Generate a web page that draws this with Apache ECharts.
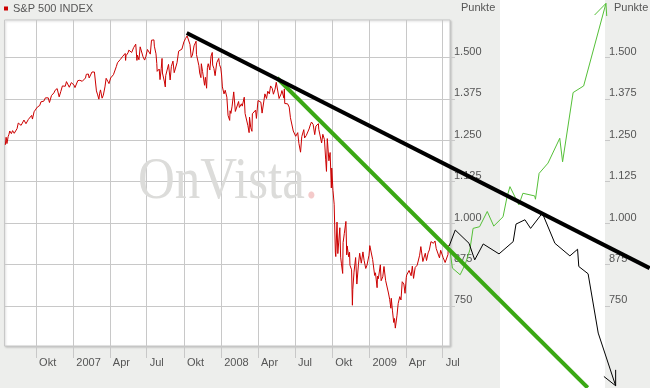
<!DOCTYPE html>
<html><head><meta charset="utf-8">
<script src="https://cdn.jsdelivr.net/npm/echarts@6/dist/echarts.min.js"></script>
<style>html,body{margin:0;padding:0;background:#edeeec}#c{width:650px;height:388px}</style>
</head><body><div id="c"></div>
<script>
const seriesName = 'S&P 500 INDEX';
const axisUnit = 'Punkte';
const watermark = 'OnVista';
const xTickDates = ['2006-10-01','2007-01-01','2007-04-01','2007-07-01','2007-10-01','2008-01-01','2008-04-01','2008-07-01','2008-10-01','2009-01-01','2009-04-01','2009-07-01'];
const xTickLabels = ['Okt','2007','Apr','Jul','Okt','2008','Apr','Jul','Okt','2009','Apr','Jul'];
const yTickValues = [750,875,1000,1125,1250,1375,1500];
const yTickLabels = ['750','875','1.000','1.125','1.250','1.375','1.500'];

const spx = [
['2006-07-17',1236],['2006-07-18',1236],['2006-07-19',1259],['2006-07-20',1249],['2006-07-21',1240],['2006-07-24',1261],['2006-07-26',1268],['2006-07-28',1278],
['2006-08-01',1270],['2006-08-04',1279],['2006-08-08',1271],['2006-08-11',1266],['2006-08-15',1285],['2006-08-18',1302],['2006-08-22',1298],['2006-08-25',1295],['2006-08-29',1301],
['2006-09-01',1311],['2006-09-06',1300],['2006-09-08',1299],['2006-09-12',1313],['2006-09-15',1319],['2006-09-20',1325],['2006-09-22',1314],['2006-09-26',1336],['2006-09-29',1336],
['2006-10-04',1350],['2006-10-06',1349],['2006-10-10',1355],['2006-10-13',1366],['2006-10-17',1364],['2006-10-20',1368],['2006-10-24',1378],['2006-10-27',1377],['2006-10-31',1378],
['2006-11-03',1364],['2006-11-08',1385],['2006-11-10',1380],['2006-11-14',1393],['2006-11-17',1401],['2006-11-22',1406],['2006-11-27',1381],
['2006-12-01',1397],['2006-12-05',1414],['2006-12-08',1409],['2006-12-12',1413],['2006-12-15',1427],['2006-12-19',1425],['2006-12-22',1410],['2006-12-27',1424],['2006-12-29',1418],
['2007-01-03',1416],['2007-01-05',1409],['2007-01-09',1412],['2007-01-12',1430],['2007-01-17',1431],['2007-01-19',1431],['2007-01-23',1428],['2007-01-26',1422],['2007-01-31',1438],
['2007-02-02',1449],['2007-02-07',1450],['2007-02-09',1438],['2007-02-13',1444],['2007-02-16',1456],['2007-02-20',1460],['2007-02-22',1456],['2007-02-27',1399],
['2007-03-02',1387],['2007-03-05',1374],['2007-03-07',1392],['2007-03-09',1402],['2007-03-13',1377],['2007-03-16',1386],['2007-03-20',1411],['2007-03-23',1437],['2007-03-27',1428],['2007-03-30',1421],
['2007-04-03',1438],['2007-04-06',1444],['2007-04-10',1448],['2007-04-13',1452],['2007-04-17',1472],['2007-04-20',1484],['2007-04-24',1480],['2007-04-27',1494],
['2007-05-02',1502],['2007-05-04',1505],['2007-05-09',1512],['2007-05-10',1491],['2007-05-11',1505],['2007-05-16',1514],['2007-05-18',1522],['2007-05-22',1524],['2007-05-25',1515],['2007-05-30',1530],
['2007-06-01',1536],['2007-06-04',1540],['2007-06-07',1491],['2007-06-08',1507],['2007-06-12',1493],['2007-06-15',1532],['2007-06-19',1533],['2007-06-22',1502],['2007-06-26',1492],['2007-06-29',1503],
['2007-07-03',1524],['2007-07-06',1530],['2007-07-10',1510],['2007-07-13',1552],['2007-07-17',1549],['2007-07-19',1553],['2007-07-20',1534],['2007-07-24',1511],['2007-07-26',1482],['2007-07-27',1458],['2007-07-31',1455],
['2007-08-01',1465],['2007-08-03',1433],['2007-08-06',1467],['2007-08-08',1497],['2007-08-09',1453],['2007-08-14',1426],['2007-08-16',1411],['2007-08-17',1445],['2007-08-21',1447],['2007-08-24',1479],['2007-08-28',1432],['2007-08-31',1473],
['2007-09-04',1489],['2007-09-07',1454],['2007-09-10',1451],['2007-09-14',1484],['2007-09-18',1519],['2007-09-21',1525],['2007-09-26',1525],['2007-09-28',1527],
['2007-10-01',1547],['2007-10-05',1557],['2007-10-09',1565],['2007-10-12',1561],['2007-10-16',1539],['2007-10-19',1500],['2007-10-22',1507],['2007-10-26',1535],['2007-10-31',1549],
['2007-11-01',1509],['2007-11-07',1475],['2007-11-09',1453],['2007-11-12',1439],['2007-11-13',1481],['2007-11-16',1458],['2007-11-21',1416],['2007-11-23',1440],['2007-11-26',1407],['2007-11-28',1469],['2007-11-30',1481],
['2007-12-04',1462],['2007-12-07',1504],['2007-12-10',1515],['2007-12-11',1477],['2007-12-14',1467],['2007-12-17',1445],['2007-12-21',1484],['2007-12-26',1497],['2007-12-28',1478],['2007-12-31',1468],
['2008-01-02',1447],['2008-01-04',1411],['2008-01-08',1390],['2008-01-11',1401],['2008-01-15',1380],['2008-01-18',1325],['2008-01-22',1310],['2008-01-23',1339],['2008-01-25',1331],['2008-01-28',1353],
['2008-02-01',1396],['2008-02-05',1337],['2008-02-08',1331],['2008-02-13',1367],['2008-02-15',1349],['2008-02-20',1360],['2008-02-22',1353],['2008-02-27',1380],['2008-02-29',1331],
['2008-03-04',1327],['2008-03-07',1294],['2008-03-10',1273],['2008-03-11',1320],['2008-03-14',1288],['2008-03-17',1277],['2008-03-18',1330],['2008-03-20',1330],['2008-03-26',1341],['2008-03-28',1316],
['2008-04-01',1370],['2008-04-04',1370],['2008-04-08',1365],['2008-04-11',1332],['2008-04-15',1334],['2008-04-18',1390],['2008-04-22',1376],['2008-04-25',1398],['2008-04-29',1390],
['2008-05-02',1414],['2008-05-06',1407],['2008-05-09',1389],['2008-05-13',1404],['2008-05-16',1425],['2008-05-19',1426],['2008-05-23',1376],['2008-05-28',1390],['2008-05-30',1400],
['2008-06-04',1377],['2008-06-05',1405],['2008-06-06',1361],['2008-06-10',1358],['2008-06-13',1360],['2008-06-17',1350],['2008-06-20',1318],['2008-06-24',1314],['2008-06-27',1278],
['2008-07-01',1284],['2008-07-03',1262],['2008-07-08',1273],['2008-07-11',1240],['2008-07-15',1214],['2008-07-18',1261],['2008-07-23',1282],['2008-07-25',1257],['2008-07-29',1264],
['2008-08-01',1260],['2008-08-05',1284],['2008-08-08',1296],['2008-08-11',1305],['2008-08-15',1298],['2008-08-19',1267],['2008-08-22',1293],['2008-08-28',1300],['2008-08-29',1283],
['2008-09-02',1277],['2008-09-05',1242],['2008-09-08',1268],['2008-09-12',1252],['2008-09-15',1193],['2008-09-17',1156],['2008-09-19',1255],['2008-09-23',1188],['2008-09-26',1213],['2008-09-29',1106],['2008-09-30',1166],
['2008-10-03',1099],['2008-10-06',1057],['2008-10-09',910],['2008-10-10',899],['2008-10-13',1003],['2008-10-15',908],['2008-10-17',940],['2008-10-20',986],['2008-10-22',897],['2008-10-24',877],['2008-10-27',848],['2008-10-28',941],['2008-10-31',968],
['2008-11-04',1005],['2008-11-06',904],['2008-11-07',931],['2008-11-11',898],['2008-11-13',912],['2008-11-14',873],['2008-11-18',859],['2008-11-20',752],['2008-11-21',800],['2008-11-24',852],['2008-11-28',896],
['2008-12-01',816],['2008-12-05',876],['2008-12-08',909],['2008-12-12',879],['2008-12-16',913],['2008-12-19',887],['2008-12-23',863],['2008-12-26',873],['2008-12-31',903],
['2009-01-02',932],['2009-01-06',935],['2009-01-09',890],['2009-01-14',842],['2009-01-16',850],['2009-01-20',805],['2009-01-21',840],['2009-01-23',832],['2009-01-28',874],['2009-01-30',826],
['2009-02-03',838],['2009-02-06',869],['2009-02-09',870],['2009-02-10',827],['2009-02-13',827],['2009-02-17',789],['2009-02-20',770],['2009-02-23',743],['2009-02-24',773],['2009-02-27',735],
['2009-03-02',700],['2009-03-04',712],['2009-03-06',683],['2009-03-09',677],['2009-03-10',720],['2009-03-13',757],['2009-03-17',778],['2009-03-20',768],['2009-03-23',823],['2009-03-27',816],['2009-03-30',788],
['2009-04-02',835],['2009-04-03',843],['2009-04-09',857],['2009-04-14',841],['2009-04-17',870],['2009-04-20',833],['2009-04-24',866],['2009-04-29',873],
['2009-05-01',878],['2009-05-05',903],['2009-05-08',929],['2009-05-13',884],['2009-05-15',883],['2009-05-19',909],['2009-05-22',887],['2009-05-26',910],['2009-05-29',919],
['2009-06-02',944],['2009-06-05',940],['2009-06-08',939],['2009-06-12',946],['2009-06-15',923],['2009-06-19',922],['2009-06-23',895],['2009-06-26',918],['2009-06-30',919],
['2009-07-02',896],['2009-07-07',881],['2009-07-10',879],['2009-07-14',905],['2009-07-15',933]
];

const trendBlack = [['2007-10-08',1574],['2010-11-24',864]];
const trendGreen = [['2008-05-18',1438],['2010-06-24',503]];
const projBlack = [['2009-07-17',931],['2009-08-01',979],['2009-09-04',939],['2009-09-18',889],['2009-10-09',937],['2009-11-17',907],['2009-12-22',944],['2009-12-29',997],['2010-01-20',1010],['2010-02-03',984],['2010-03-04',1030],['2010-04-04',939],['2010-05-11',901],['2010-05-30',921],['2010-06-02',869],['2010-06-25',847],['2010-07-20',668],['2010-09-01',509]];
const projBlackArrow = [['2010-08-03',537],['2010-09-01',509],['2010-09-01',557]];
const projGreen = [['2009-07-18',925],['2009-07-25',864],['2009-08-13',844],['2009-08-25',874],['2009-09-06',919],['2009-09-14',984],['2009-09-30',989],['2009-10-19',1035],['2009-11-04',991],['2009-11-27',1019],['2009-12-07',1080],['2009-12-14',1110],['2010-01-05',1055],['2010-01-15',1090],['2010-02-13',1082],['2010-02-15',1072],['2010-02-24',1150],['2010-03-18',1181],['2010-04-16',1256],['2010-04-23',1185],['2010-05-19',1394],['2010-06-14',1414],['2010-08-08',1663]];
const projGreenArrow = [['2010-07-11',1628],['2010-08-08',1663],['2010-08-10',1625]];

const FONT = 'Liberation Sans, Arial, sans-serif';
const T = d => echarts.time.parse(d).getTime();
const toXY = arr => arr.map(p => [T(p[0]), p[1]]);
const xTicks = xTickDates.map(T);
const GRID = '#c8c8c8';

// main plot box (px) and its scale; overlay grid spans whole canvas with same scale
const W = 650, H = 388, PL = 4.5, PR = 450, PT = 20, PB = 346;
const X0 = T('2006-07-15'), X1 = T('2009-07-19'), Y0 = 629, Y1 = 1613;
const msPx = (X1 - X0) / (PR - PL), vPx = (Y1 - Y0) / (PB - PT);
const oX1 = X0 + (W - PL) * msPx, oY0 = Y0 - (H - PB) * vPx, oY1 = Y1 + PT * vPx;

function yAxisDef(offset, split) {
  return {
    type: 'value', gridIndex: 0, position: 'right', offset: offset, min: Y0, max: Y1,
    axisLine: {show: false},
    axisTick: {show: true, length: 5, customValues: yTickValues, lineStyle: {color: GRID}},
    axisLabel: {customValues: yTickValues, formatter: v => yTickLabels[yTickValues.indexOf(v)] || '',
      margin: 4, verticalAlign: 'bottom', lineHeight: 11, color: '#555', fontSize: 11, fontFamily: FONT},
    splitLine: {show: split, lineStyle: {color: GRID}}
  };
}
function lineS(name, data, color, width, z, overlay) {
  return {name, type: 'line', data: toXY(data), symbol: 'none', showSymbol: false,
    xAxisIndex: overlay ? 1 : 0, yAxisIndex: overlay ? 2 : 0,
    lineStyle: {color, width}, itemStyle: {color}, z, silent: true, animation: false};
}

const chart = echarts.init(document.getElementById('c'), null, {renderer: 'canvas'});
chart.setOption({
  backgroundColor: '#edeeec',
  animation: false,
  textStyle: {fontFamily: FONT},
  legend: {data: [seriesName], left: 0, top: 0, padding: [3, 4], icon: 'rect', itemWidth: 4, itemHeight: 4,
    selectedMode: false, textStyle: {fontSize: 11, color: '#555', fontFamily: FONT}},
  grid: [
    {left: PL, right: W - PR, top: PT, bottom: H - PB, show: true, backgroundColor: '#fff',
      borderColor: GRID, borderWidth: 1, shadowColor: 'rgba(0,0,0,0.18)', shadowBlur: 2, shadowOffsetX: 1, shadowOffsetY: 1},
    {left: PL, right: 0, top: 0, bottom: 0, show: false}
  ],
  xAxis: [
    {type: 'value', gridIndex: 0, min: X0, max: X1,
      axisLine: {show: false},
      axisTick: {show: true, length: 12, customValues: xTicks, lineStyle: {color: GRID}},
      axisLabel: {customValues: xTicks, formatter: v => {
          let best = 0; for (let i = 0; i < xTicks.length; i++) if (Math.abs(xTicks[i]-v) < Math.abs(xTicks[best]-v)) best = i;
          return xTickLabels[best]; },
        align: 'left', padding: [0, 0, 0, 3], margin: 11, color: '#555', fontSize: 11, fontFamily: FONT},
      splitLine: {show: true, lineStyle: {color: GRID}}
    },
    {type: 'value', gridIndex: 1, min: X0, max: oX1, show: false}
  ],
  yAxis: [yAxisDef(0, true), yAxisDef(155, false),
    {type: 'value', gridIndex: 1, min: oY0, max: oY1, show: false}],
  graphic: [
    {type: 'rect', shape: {x: 500, y: 0, width: 105, height: 388}, style: {fill: '#fff'}, z: 0, silent: true},
    {type: 'text', x: 138, y: 182, scaleX: 0.85, z: 1, silent: true,
      style: {text: '{a|' + watermark + '}{b|.}', x: 0, y: 0, verticalAlign: 'middle', align: 'left',
        rich: {a: {fill: '#dcdcda', fontSize: 60, fontFamily: 'Liberation Serif, serif'},
               b: {fill: '#f4caca', fontSize: 60, fontFamily: 'Liberation Serif, serif'}}}},
    {type: 'text', x: 461, y: 8, z: 2, silent: true, style: {text: axisUnit, fill: '#555', font: '11px ' + FONT, verticalAlign: 'middle'}},
    {type: 'text', x: 614, y: 8, z: 2, silent: true, style: {text: axisUnit, fill: '#555', font: '11px ' + FONT, verticalAlign: 'middle'}}
  ],
  series: [
    lineS(seriesName, spx, '#cc0000', 1, 3, false),
    lineS('projGreen', projGreen, '#55c038', 1, 4, true),
    lineS('projGreenArrow', projGreenArrow, '#55c038', 1, 4, true),
    lineS('projBlack', projBlack, '#000', 1, 4, true),
    lineS('projBlackArrow', projBlackArrow, '#000', 1, 4, true),
    lineS('trendGreen', trendGreen, '#3aa814', 4, 5, true),
    lineS('trendBlack', trendBlack, '#000', 4, 6, true)
  ]
});
</script></body></html>
